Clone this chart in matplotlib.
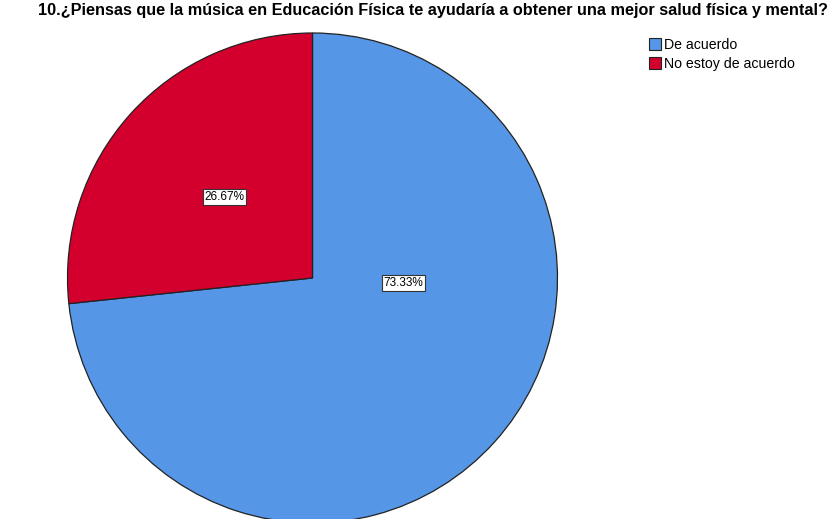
import matplotlib.pyplot as plt
from matplotlib.patches import Patch

title = "10.¿Piensas que la música en Educación Física te ayudaría a obtener una mejor salud física y mental?"
categories = ["De acuerdo", "No estoy de acuerdo"]
percentages = [73.33, 26.67]
colors = ["#5596E6", "#D3002D"]
# label anchor points, in units of the pie radius
label_pos = [(0.37, -0.02), (-0.36, 0.33)]

W, H = 831, 519
fig = plt.figure(figsize=(W / 100, H / 100), dpi=100)
plt.rcParams['font.family'] = ['Liberation Sans', 'DejaVu Sans']

cx, cy, r = 312.5, 519 - 278, 245.0
lim = 1.01
ax = fig.add_axes([(cx - r * lim) / W, (cy - r * lim) / H, 2 * r * lim / W, 2 * r * lim / H])
wedges, _ = ax.pie(percentages, colors=colors, startangle=90, counterclock=False,
                   wedgeprops=dict(edgecolor='#222222', linewidth=0.9))
ax.set_xlim(-lim, lim)
ax.set_ylim(-lim, lim)
ax.set_aspect('equal')
ax.axis('off')

for (x, y), p in zip(label_pos, percentages):
    ax.text(x, y, f"{p:.2f}%", ha='center', va='center', fontsize=8.5,
            bbox=dict(boxstyle='square,pad=0.15', facecolor='white', edgecolor='#333333', linewidth=0.8))

fig.text(433 / W, 1 - 11 / H, title, ha='center', va='center',
         fontsize=11.7, fontweight='bold')

handles = [Patch(facecolor=c, edgecolor='#222222', linewidth=0.8) for c in colors]
fig.legend(handles, categories, loc='upper left', bbox_to_anchor=(649 / W, 1 - 38 / H),
           frameon=False, fontsize=10.2, handlelength=0.85, handleheight=0.85,
           handletextpad=0.2, labelspacing=0.35, borderpad=0, borderaxespad=0)

fig.savefig("out.png", dpi=100)
